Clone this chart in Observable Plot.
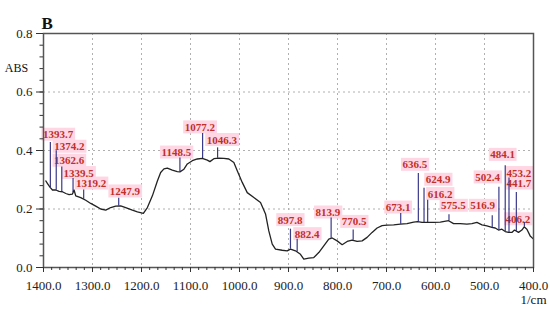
<!DOCTYPE html>
<html><head><meta charset="utf-8">
<script src="https://cdn.jsdelivr.net/npm/d3@7"></script>
<script src="https://cdn.jsdelivr.net/npm/@observablehq/plot@0.6"></script>
<style>
body{margin:0;background:#fff;}
#chart{width:550px;height:314px;}
#chart svg, #chart svg text { font-family: "Liberation Serif", "DejaVu Serif", serif !important; }
</style>
</head><body><div id="chart"></div>
<script>
// Spectrum (wavenumber in 1/cm, absorbance)
const wavenumber = [1395.3,1391.8,1386.5,1381.7,1374.9,1368.2,1361.3,1354.5,1347.8,1340.9,
1337.6,1334.2,1324.0,1313.8,1303.6,1293.4,1283.2,1273.0,1262.8,1252.6,
1242.5,1232.3,1218.6,1208.4,1196.2,1188.0,1177.8,1167.6,1160.9,1154.2,
1147.3,1137.1,1126.9,1121.6,1113.4,1106.5,1096.3,1086.1,1075.9,1065.7,
1060.4,1052.3,1042.1,1031.9,1021.7,1011.5,1004.6,994.4,984.2,970.7,
957.1,946.9,940.2,933.2,926.5,912.9,902.7,895.9,885.8,875.6,
868.8,858.6,848.4,838.2,828.0,817.8,810.9,800.7,790.5,780.3,
770.1,759.9,749.7,739.6,729.4,719.2,709.0,698.8,685.3,671.7,
658.1,644.6,636.4,627.4,617.2,603.8,590.2,573.3,563.1,549.5,
535.9,525.7,515.5,505.2,495.1,484.9,478.1,471.4,464.5,457.7,
451.0,444.1,438.8,430.6,423.7,419.0,413.5,406.8,400.0];
const absorbance = [0.296,0.287,0.274,0.265,0.265,0.260,0.259,0.253,0.249,0.251,
0.265,0.245,0.239,0.230,0.219,0.210,0.200,0.196,0.205,0.210,
0.211,0.205,0.196,0.190,0.185,0.205,0.245,0.296,0.325,0.337,
0.340,0.333,0.328,0.327,0.336,0.354,0.365,0.371,0.373,0.367,
0.362,0.372,0.374,0.373,0.371,0.359,0.331,0.291,0.256,0.239,
0.222,0.183,0.125,0.080,0.063,0.059,0.057,0.063,0.057,0.045,
0.029,0.032,0.034,0.051,0.074,0.097,0.101,0.091,0.078,0.089,
0.094,0.089,0.091,0.103,0.120,0.135,0.143,0.145,0.146,0.148,
0.150,0.155,0.157,0.154,0.154,0.154,0.155,0.160,0.150,0.150,
0.148,0.150,0.154,0.146,0.142,0.137,0.135,0.128,0.131,0.123,
0.120,0.120,0.128,0.120,0.128,0.139,0.131,0.108,0.097];

// Peak annotations
const peakLabel = ["1393.7","1374.2","1362.6","1339.5","1319.2","1247.9","1148.5","1077.2","1046.3","897.8","882.4","813.9","770.5","673.1","636.5","624.9","616.2","575.5","516.9","502.4","484.1","453.2","441.7","406.2"];
const peakPos = [1386,1374,1362.7,1339.7,1318,1246.5,1121.6,1075.3,1044.7,896,882.3,813,768,671,635,623.4,616,572.5,484.2,470.6,457.7,450,435,418.6];
const peakTop = [0.427,0.399,0.344,0.304,0.265,0.237,0.374,0.458,0.409,0.131,0.097,0.169,0.128,0.185,0.321,0.271,0.230,0.180,0.177,0.274,0.348,0.306,0.256,0.154];
const labelX = [1370.4,1347.4,1347.8,1328.1,1302.6,1233.7,1128.7,1081.0,1036.0,896.6,861.9,819.5,766.1,676.2,642.2,594.7,590.8,563.3,503.6,493.8,462.9,429.6,429.6,431.7];
const labelY = [0.454,0.413,0.365,0.323,0.287,0.260,0.393,0.479,0.436,0.162,0.114,0.188,0.156,0.205,0.351,0.300,0.251,0.211,0.211,0.308,0.385,0.323,0.287,0.165];

// Axis ticks
const xTicks = [1400,1300,1200,1100,1000,900,800,700,600,500,400];
const yTicks = [0.0,0.2,0.4,0.6,0.8];
const xGrid = [1300,1200,1100,1000,900,800,700,600,500];
const yGrid = [0.2,0.4,0.6];
const xMinor = d3.range(0, 61).map(i => 1400 - i * 100 / 6);
const yMinor = d3.range(0, 21).map(i => i * 0.04);

const curve = wavenumber.map((w, i) => ({w, a: absorbance[i]}));
function curveAt(w) {
  for (let i = 0; i < wavenumber.length - 1; i++) {
    const w0 = wavenumber[i], w1 = wavenumber[i + 1];
    if (w <= w0 && w >= w1) {
      const t = (w0 - w) / (w0 - w1);
      return absorbance[i] + t * (absorbance[i + 1] - absorbance[i]);
    }
  }
  return absorbance[0];
}
const peaks = peakLabel.map((t, i) => ({t, x: peakPos[i], y1: curveAt(peakPos[i]), y2: peakTop[i], lx: labelX[i], ly: labelY[i]}));

const serif = "'Liberation Serif', 'DejaVu Serif', serif";
const fmt = d3.format(".1f");
const chart = Plot.plot({
  width: 550, height: 314,
  marginLeft: 43, marginRight: 17, marginTop: 33, marginBottom: 47,
  x: {domain: [1400, 400]},
  y: {domain: [0, 0.8]},
  style: {fontFamily: serif, background: "white", color: "#222"},
  marks: [
    Plot.ruleX(xGrid, {stroke: "#b0b0b0", strokeDasharray: "2,3", strokeWidth: 1}),
    Plot.ruleY(yGrid, {stroke: "#b0b0b0", strokeDasharray: "2,3", strokeWidth: 1}),
    Plot.text(peaks, {x: "lx", y: "ly", text: "t", fill: "#c0302a", fontWeight: "bold", fontSize: 11, fontFamily: serif, ariaLabel: "peak labels"}),
    Plot.ruleX(peaks, {x: "x", y1: "y1", y2: "y2", stroke: "#3a3a8c", strokeWidth: 1.2}),
    Plot.line(curve, {x: "w", y: "a", stroke: "#222", strokeWidth: 1.3}),
    Plot.frame({stroke: "#555", strokeWidth: 1.5}),
    Plot.axisX(xMinor, {tickSize: 3, tickFormat: () => "", label: null, stroke: "#333"}),
    Plot.axisX(xTicks, {tickSize: 5, tickPadding: 8, tickFormat: fmt, fontSize: 13, fontFamily: serif, label: null, stroke: "#333"}),
    Plot.axisY(yMinor, {tickSize: 3.5, tickFormat: () => "", label: null, stroke: "#333"}),
    Plot.axisY(yTicks, {tickSize: 7, tickPadding: 4, tickFormat: fmt, fontSize: 13, fontFamily: serif, label: null, stroke: "#333"}),
    Plot.text(["B"], {frameAnchor: "top-left", dx: -2, dy: -17, textAnchor: "start", fontSize: 17, fontWeight: "bold", fontFamily: serif, fill: "#111"}),
    Plot.text(["ABS"], {frameAnchor: "top-left", dx: -27, dy: 30, textAnchor: "middle", fontSize: 12, fontFamily: serif, fill: "#111"}),
    Plot.text(["1/cm"], {frameAnchor: "bottom-right", dx: 0, dy: 36.5, textAnchor: "middle", fontSize: 13, fontFamily: serif, fill: "#111"})
  ]
});
document.getElementById("chart").append(chart);

// pink backgrounds behind peak labels
const labelSet = new Set(peakLabel);
const texts = Array.from(chart.querySelectorAll("text")).filter(t => labelSet.has(t.textContent));
if (texts.length) {
  const parent = texts[0].parentNode;
  const first = parent.firstChild;
  texts.forEach(t => {
    const b = t.getBBox();
    const r = document.createElementNS("http://www.w3.org/2000/svg", "rect");
    r.setAttribute("x", b.x - 1.5);
    r.setAttribute("y", b.y - 0.5);
    r.setAttribute("width", b.width + 3);
    r.setAttribute("height", b.height + 1);
    r.setAttribute("fill", "#ffd6e4");
    r.setAttribute("stroke", "none");
    const tr = t.getAttribute("transform");
    if (tr) r.setAttribute("transform", tr);
    parent.insertBefore(r, first);
  });
}
</script>
</body></html>
